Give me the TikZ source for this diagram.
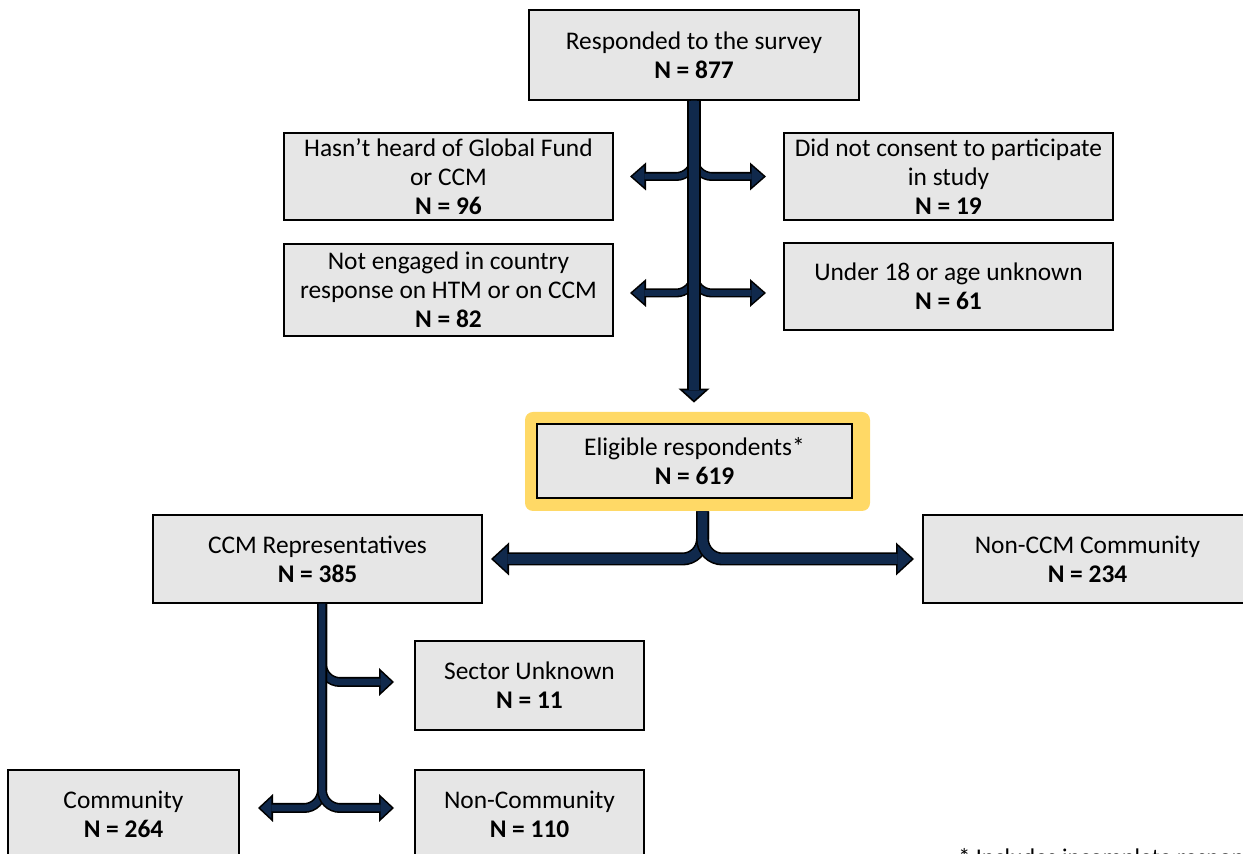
\documentclass[tikz,border=0pt]{standalone}
\usepackage{fontspec}
\setmainfont{Carlito}
\usetikzlibrary{arrows.meta}

\definecolor{boxgray}{HTML}{E6E6E6}
\definecolor{navy}{HTML}{10294C}
\definecolor{gold}{HTML}{FFD966}

\tikzset{
  box/.style={draw=black, line width=1pt, fill=boxgray, align=center, inner sep=0pt,
    font=\fontsize{12.7}{14.5}\selectfont},
  stemarrow/.style={draw=navy, line width=5.2pt, -{Triangle[width=10.9pt, length=4.9pt, line width=0pt]}, shorten >=1.2pt,
    preaction={draw=black, line width=7pt, -{Triangle[width=15.5pt, length=7pt, line width=0pt]}, shorten >=0pt}},
  sidearrow/.style={draw=navy, line width=2.9pt, rounded corners=9pt, -{Triangle[width=10.5pt, length=6pt, line width=0pt]}, shorten >=1.2pt,
    preaction={draw=black, line width=4.5pt, -{Triangle[width=14pt, length=8pt, line width=0pt]}, shorten >=0pt}},
  splitarrow/.style={draw=navy, line width=4.9pt, rounded corners=10pt, -{Triangle[width=12.9pt, length=7pt, line width=0pt]}, shorten >=1.2pt,
    preaction={draw=black, line width=6.5pt, -{Triangle[width=16.5pt, length=9pt, line width=0pt]}, shorten >=0pt}},
  ccmarrow/.style={draw=navy, line width=3.4pt, rounded corners=9pt, -{Triangle[width=10.3pt, length=5.5pt, line width=0pt]}, shorten >=1.2pt,
    preaction={draw=black, line width=5pt, -{Triangle[width=14pt, length=7.5pt, line width=0pt]}, shorten >=0pt}}
}

\begin{document}
\begin{tikzpicture}[x=0.5pt, y=-0.5pt]
    \useasboundingbox (0,0) rectangle (1243,854);
    \clip (0,0) rectangle (1243,854);

    % boxes
    \node[box, minimum width=165pt, minimum height=45pt] (resp) at (694,55) {Responded to the survey\\\textbf{N = 877}};
    \node[box, minimum width=164.5pt, minimum height=43.5pt] (hasnt) at (448.5,176.5) {Hasn’t heard of Global Fund\\or CCM\\\textbf{N = 96}};
    \node[box, minimum width=164.5pt, minimum height=43.5pt] (nocons) at (948.5,176.5) {Did not consent to participate\\in study\\\textbf{N = 19}};
    \node[box, minimum width=164.5pt, minimum height=46pt] (noteng) at (448.5,290) {Not engaged in country\\response on HTM or on CCM\\\textbf{N = 82}};
    \node[box, minimum width=164.5pt, minimum height=43.5pt] (under) at (948.5,286.5) {Under 18 or age unknown\\\textbf{N = 61}};
    \node[fill=gold, rounded corners=4pt, minimum width=172.5pt, minimum height=49.5pt, inner sep=0pt] (eligframe) at (697.5,461.5) {};
    \node[box, minimum width=157.5pt, minimum height=37pt] (elig) at (694.5,461) {Eligible respondents*\\\textbf{N = 619}};
    \node[box, minimum width=164.5pt, minimum height=44pt] (ccm) at (317.5,559) {CCM Representatives\\\textbf{N = 385}};
    \node[box, minimum width=164.5pt, minimum height=44pt] (nonccm) at (1087.5,559) {Non-CCM Community\\\textbf{N = 234}};
    \node[box, minimum width=114.5pt, minimum height=44.5pt] (sector) at (529.5,685.5) {Sector Unknown\\\textbf{N = 11}};
    \node[box, minimum width=115.5pt, minimum height=44pt] (comm) at (123.5,814) {Community\\\textbf{N = 264}};
    \node[box, minimum width=114.5pt, minimum height=44pt] (noncomm) at (529.5,814) {Non-Community\\\textbf{N = 110}};
    \node[anchor=base west, inner sep=0pt, font=\fontsize{12}{14.5}\selectfont] (note) at (958,866) {* Includes incomplete responses};

    % arrows
    \draw[sidearrow] (resp.south) |- ([xshift=8pt]hasnt.east);
    \draw[sidearrow] (resp.south) |- ([xshift=-8.5pt]nocons.west);
    \draw[sidearrow] (resp.south) |- ([xshift=8pt,yshift=-1.5pt]noteng.east);
    \draw[sidearrow] (resp.south) |- ([xshift=-8.5pt,yshift=-3.25pt]under.west);
    \draw[stemarrow] (resp.south) -- ([yshift=4.5pt]eligframe.north -| resp.south);
    \draw[splitarrow] ([xshift=2.5pt]eligframe.south) |- ([xshift=4pt]ccm.east);
    \draw[splitarrow] ([xshift=2.5pt]eligframe.south) |- ([xshift=-4pt]nonccm.west);
    \draw[ccmarrow] ([xshift=2.25pt]ccm.south) |- ([xshift=-10pt,yshift=1.75pt]sector.west);
    \draw[ccmarrow] ([xshift=2.25pt]ccm.south) |- ([xshift=9pt,yshift=3pt]comm.east);
    \draw[ccmarrow] ([xshift=2.25pt]ccm.south) |- ([xshift=-10pt,yshift=3pt]noncomm.west);
\end{tikzpicture}
\end{document}
